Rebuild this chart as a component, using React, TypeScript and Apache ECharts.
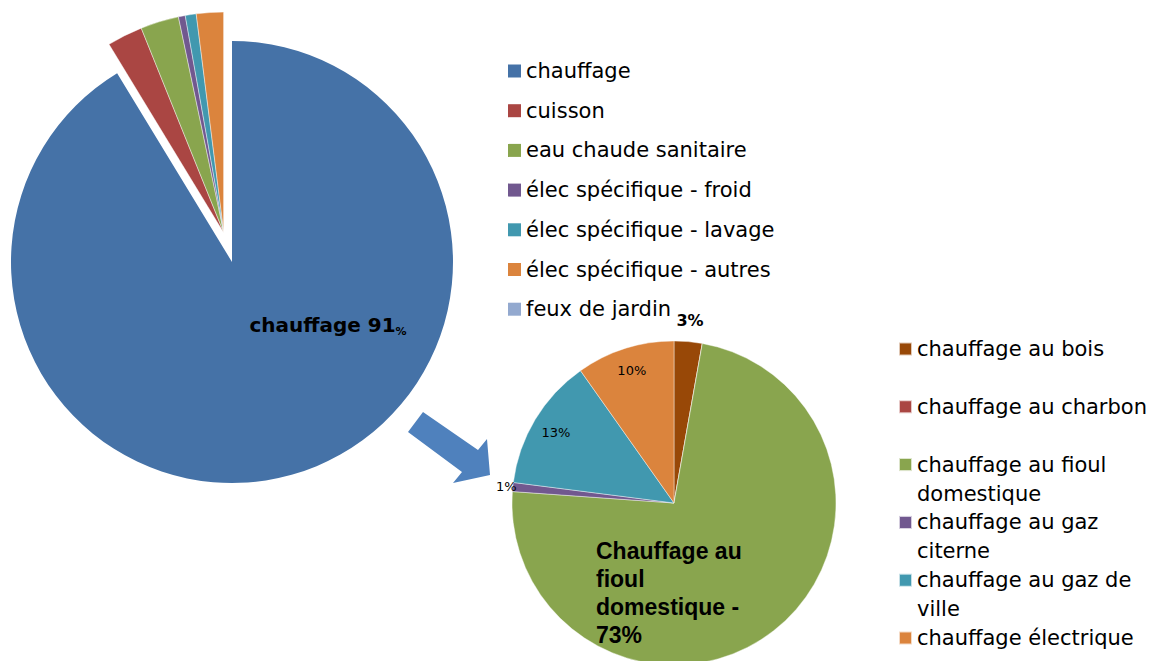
import React, { useEffect, useRef } from "react";
import * as echarts from "echarts";

// ---- data: consumption by usage (big pie) ----
const usageNames = [
  "chauffage",
  "cuisson",
  "eau chaude sanitaire",
  "élec spécifique - froid",
  "élec spécifique - lavage",
  "élec spécifique - autres",
  "feux de jardin",
];
const usageValues = [91.3, 2.6, 2.8, 0.5, 0.8, 2.0, 0];
const usageColors = ["#4572A7", "#AA4643", "#89A54E", "#71588F", "#4198AF", "#DB843D", "#93A9CF"];

// ---- data: heating breakdown (small pie) ----
const heatNames = [
  "chauffage au bois",
  "chauffage au charbon",
  "chauffage au fioul domestique",
  "chauffage au gaz citerne",
  "chauffage au gaz de ville",
  "chauffage électrique",
];
const heatLegendLines = [
  ["chauffage au bois"],
  ["chauffage au charbon"],
  ["chauffage au fioul", "domestique"],
  ["chauffage au gaz", "citerne"],
  ["chauffage au gaz de", "ville"],
  ["chauffage électrique"],
];
const heatValues = [2.8, 0, 73.4, 0.9, 13.2, 9.8];
const heatColors = ["#984807", "#AA4643", "#89A54E", "#71588F", "#4198AF", "#DB843D"];
const fioulLabelLines = ["Chauffage au", "fioul", "domestique -"];

// ---- layout ----
const P1 = { cx: 232, cy: 262, r: 221, explode: 30 };
const P2 = { cx: 674, cy: 503, r: 162 };
const heatLabelRadial = [1.13, 0, 0, 1.04, 0.85, 0.86];

const sum = (a: number[]) => a.reduce((s, v) => s + v, 0);
function midAngle(values: number[], idx: number) {
  const total = sum(values);
  let start = 0;
  for (let i = 0; i < idx; i++) start += values[i];
  return ((start + values[idx] / 2) / total) * Math.PI * 2;
}

export default function App() {
  const ref = useRef<HTMLDivElement>(null);
  useEffect(() => {
    if (!ref.current) return;
    const chart = echarts.init(ref.current, undefined, { renderer: "svg" });

    // explode offset for the non-"chauffage" group
    const total1 = sum(usageValues);
    const othersMid = ((usageValues[0] + (total1 - usageValues[0]) / 2) / total1) * Math.PI * 2;
    const exCx = P1.cx + P1.explode * Math.sin(othersMid);
    const exCy = P1.cy - P1.explode * Math.cos(othersMid);

    const border = { borderColor: "rgba(255,255,255,0.7)", borderWidth: 0.6 };

    const option: any = {
      animation: false,
      backgroundColor: "#ffffff",
      legend: [
        {
          orient: "vertical",
          left: 508,
          top: 59,
          height: 500,
          padding: 0,
          itemWidth: 13,
          itemHeight: 13,
          itemGap: 15.7,
          icon: "rect",
          selectedMode: false,
          textStyle: { fontFamily: "DejaVu Sans", fontSize: 21, lineHeight: 24, color: "#000" },
          data: usageNames.map((n, i) => ({ name: n, itemStyle: { color: usageColors[i] } })),
        },
        {
          orient: "vertical",
          left: 898,
          top: 305.5,
          height: 600,
          padding: 0,
          itemWidth: 13,
          itemHeight: 13,
          itemGap: -29.2,
          icon: "rect",
          selectedMode: false,
          textStyle: { fontFamily: "DejaVu Sans", fontSize: 21, lineHeight: 29, color: "#000" },
          formatter: (name: string) => {
            const lines = heatLegendLines[heatNames.indexOf(name)];
            return "\n" + lines[0] + "\n" + (lines[1] || "");
          },
          data: heatNames.map((n, i) => ({ name: n, itemStyle: { color: heatColors[i] } })),
        },
      ],
      series: [
        {
          type: "pie",
          center: [P1.cx, P1.cy],
          radius: P1.r,
          startAngle: 90,
          clockwise: true,
          silent: true,
          labelLine: { show: false },
          data: usageNames.map((n, i) => ({
            name: n,
            value: usageValues[i],
            itemStyle: { color: i === 0 ? usageColors[i] : "rgba(0,0,0,0)", borderWidth: 0 },
            label:
              i === 0
                ? {
                    show: true,
                    position: "inside",
                    formatter: (p: any) => `{a|${p.name} ${Math.round(p.percent)}}{b|%}`,
                    rich: {
                      a: { fontFamily: "DejaVu Sans", fontWeight: "bold", fontSize: 20, color: "#000", lineHeight: 24 },
                      b: { fontFamily: "DejaVu Sans", fontWeight: "bold", fontSize: 11, color: "#000", lineHeight: 16, verticalAlign: "bottom" },
                    },
                  }
                : { show: false },
          })),
          labelLayout: (p: any) =>
            p.dataIndex === 0 ? { x: P1.cx + 96, y: P1.cy + 63, align: "center", verticalAlign: "middle" } : {},
        },
        {
          type: "pie",
          center: [exCx, exCy],
          radius: P1.r,
          startAngle: 90,
          clockwise: true,
          silent: true,
          label: { show: false },
          labelLine: { show: false },
          data: usageNames.map((n, i) => ({
            name: n,
            value: usageValues[i],
            itemStyle:
              i === 0 ? { color: "rgba(0,0,0,0)", borderWidth: 0 } : { color: usageColors[i], ...border },
          })),
        },
        {
          type: "pie",
          center: [P2.cx, P2.cy],
          radius: P2.r,
          startAngle: 90,
          clockwise: true,
          silent: true,
          labelLine: { show: false },
          data: heatNames.map((n, i) => ({
            name: n,
            value: heatValues[i],
            itemStyle: { color: heatColors[i], ...border },
            label:
              heatValues[i] === 0
                ? { show: false }
                : i === 2
                ? {
                    show: true,
                    position: "inside",
                    formatter: (p: any) => fioulLabelLines.join("\n") + "\n" + Math.round(p.percent) + "%",
                    fontFamily: "Liberation Sans",
                    fontWeight: "bold",
                    fontSize: 23,
                    lineHeight: 28,
                    color: "#000",
                    align: "left",
                  }
                : {
                    show: true,
                    position: "inside",
                    formatter: (p: any) => Math.round(p.percent) + "%",
                    fontFamily: "DejaVu Sans",
                    fontWeight: i === 0 ? "bold" : "normal",
                    fontSize: i === 0 ? 16 : 13,
                    color: "#000",
                  },
          })),
          labelLayout: (p: any) => {
            const i = p.dataIndex;
            if (i === 2) return { x: P2.cx - 78, y: P2.cy + 34, align: "left", verticalAlign: "top" };
            const a = midAngle(heatValues, i);
            const f = heatLabelRadial[i];
            return {
              x: P2.cx + P2.r * f * Math.sin(a),
              y: P2.cy - P2.r * f * Math.cos(a),
              align: "center",
              verticalAlign: "middle",
            };
          },
        },
      ],
      graphic: [
        {
          type: "polygon",
          silent: true,
          shape: {
            points: [
              [423, 412],
              [478, 450],
              [487, 439],
              [490, 475],
              [453, 483],
              [462, 472],
              [408, 432],
            ],
          },
          style: { fill: "#4F81BD" },
        },
      ],
    };
    chart.setOption(option);
    return () => chart.dispose();
  }, []);
  return (
    <div
      ref={ref}
      style={{ position: "absolute", left: 0, top: 0, width: 1158, height: 661, background: "#fff" }}
    />
  );
}
